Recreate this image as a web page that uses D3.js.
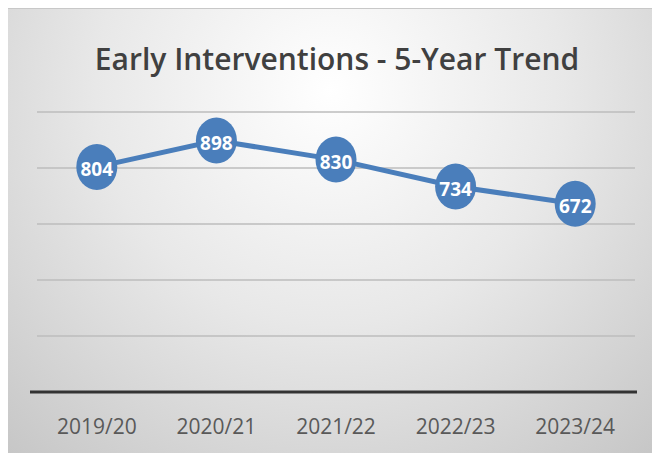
<!DOCTYPE html>
<html lang="en">
<head>
  <meta charset="UTF-8">
  <title>Early Interventions - 5-Year Trend</title>
  <style>
    body { margin: 0; background: #fff; }
    #chart svg { display: block; }
  </style>
  <script src="https://d3js.org/d3.v7.min.js"></script>
</head>
<body>
  <div id="chart"></div>
  <script>
    const years = ["2019/20", "2020/21", "2021/22", "2022/23", "2023/24"];
    const interventions = [804, 898, 830, 734, 672];
    const gridTicks = [0, 200, 400, 600, 800, 1000];

    const width = 652, height = 453;
    const svg = d3.select("#chart")
      .append("svg")
      .attr("width", width)
      .attr("height", height);

    // radial gray background like the spreadsheet chart area
    const defs = svg.append("defs");
    const grad = defs.append("radialGradient")
      .attr("id", "bg")
      .attr("gradientUnits", "userSpaceOnUse")
      .attr("cx", 330).attr("cy", 90).attr("r", 520);
    grad.append("stop").attr("offset", "0%").attr("stop-color", "#ffffff");
    grad.append("stop").attr("offset", "45%").attr("stop-color", "#e8e8e8");
    grad.append("stop").attr("offset", "100%").attr("stop-color", "#c2c2c2");

    svg.append("rect")
      .attr("x", 8).attr("y", 8)
      .attr("width", width - 8).attr("height", height - 8)
      .attr("fill", "url(#bg)");
    svg.append("line")
      .attr("x1", 8).attr("x2", width)
      .attr("y1", 8.5).attr("y2", 8.5)
      .attr("stroke", "#c8c8c8");

    const x = d3.scaleBand()
      .domain(years)
      .range([37, 635]);

    const y = d3.scaleLinear()
      .domain([0, 1000])
      .range([392, 112]);

    // gridlines
    svg.append("g")
      .selectAll("line")
      .data(gridTicks.slice(1))
      .join("line")
      .attr("x1", 37).attr("x2", 635)
      .attr("y1", d => y(d)).attr("y2", d => y(d))
      .attr("stroke", "#bdbdbd")
      .attr("stroke-width", 1.5);

    // x axis
    const xAxis = svg.append("g")
      .attr("transform", `translate(0,${y(0)})`)
      .call(d3.axisBottom(x).tickSize(0).tickPadding(27));
    xAxis.select(".domain")
      .attr("d", "M30,0H637")
      .attr("stroke", "#333")
      .attr("stroke-width", 3);
    xAxis.selectAll("text")
      .attr("fill", "#595959")
      .style("font-family", "'Open Sans', sans-serif")
      .style("font-size", "21px");

    // title
    svg.append("text")
      .attr("x", 337)
      .attr("y", 70)
      .attr("text-anchor", "middle")
      .attr("fill", "#404040")
      .style("font-family", "'Open Sans', sans-serif")
      .style("font-size", "30px")
      .style("font-weight", "600")
      .text("Early Interventions - 5-Year Trend");

    const line = d3.line()
      .x((d, i) => x(years[i]) + x.bandwidth() / 2)
      .y(d => y(d));

    svg.append("path")
      .datum(interventions)
      .attr("fill", "none")
      .attr("stroke", "#4a7ebb")
      .attr("stroke-width", 5)
      .attr("d", line);

    const pts = svg.append("g")
      .selectAll("g")
      .data(interventions)
      .join("g")
      .attr("transform", (d, i) => `translate(${x(years[i]) + x.bandwidth() / 2},${y(d)})`);

    pts.append("ellipse")
      .attr("rx", 20.5)
      .attr("ry", 23)
      .attr("fill", "#4a7ebb");

    pts.append("text")
      .attr("text-anchor", "middle")
      .attr("dy", "0.5em")
      .attr("fill", "#fff")
      .style("font-family", "'Open Sans', sans-serif")
      .style("font-size", "19px")
      .style("font-weight", "700")
      .text(d => d);
  </script>
</body>
</html>
